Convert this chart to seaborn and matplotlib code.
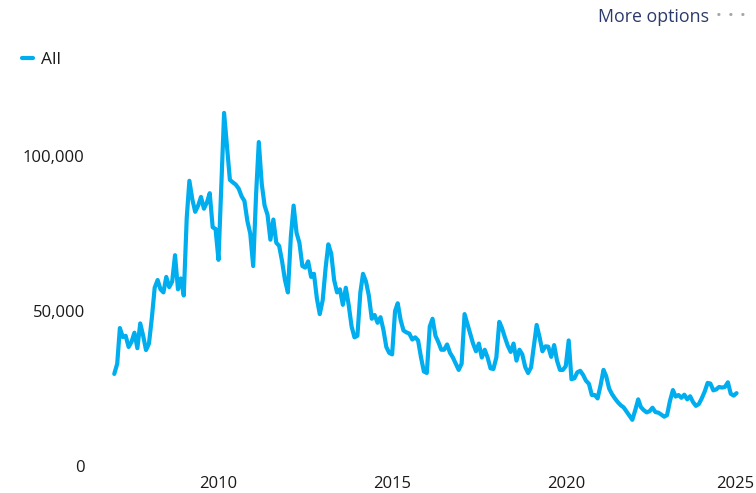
import matplotlib
matplotlib.use("Agg")
import matplotlib.pyplot as plt
import matplotlib.ticker as mticker
import matplotlib.transforms as mtransforms
import pandas as pd
import seaborn as sns

# monthly values, Jan 2007 - Dec 2024
months = pd.date_range("2007-01-01", periods=216, freq="MS")
counts = [
    # 2007
    29700, 33000, 44500, 41600, 42000, 38400, 40000, 43000, 38000, 46000, 42000, 37400,
    # 2008
    39500, 48000, 57500, 60000, 57000, 56000, 61000, 57700, 59500, 68000, 57000, 60500,
    # 2009
    55000, 80000, 92000, 86000, 82000, 84000, 86800, 83000, 85000, 88000, 77000, 76500,
    # 2010
    66500, 91000, 113900, 103000, 92300, 91500, 90800, 89500, 87000, 85500, 79000, 75000,
    # 2011
    64500, 88000, 104500, 91000, 84000, 81000, 73000, 79500, 72000, 71000, 66000, 60000,
    # 2012
    56000, 74000, 84000, 75200, 72000, 64500, 64000, 66000, 61000, 62000, 54000, 49000,
    # 2013
    53500, 64000, 71500, 68500, 60000, 56000, 57000, 52000, 57500, 52000, 45000, 41500,
    # 2014
    42000, 56000, 62000, 59500, 55000, 47500, 48700, 46200, 48000, 44000, 38400, 36500,
    # 2015
    36000, 50000, 52500, 47000, 43700, 43100, 42700, 40800, 41500, 40500, 35000, 30500,
    # 2016
    30000, 45000, 47500, 42000, 40000, 37500, 37500, 39200, 36500, 35000, 33000, 31000,
    # 2017
    33000, 49000, 46000, 42700, 39500, 37000, 39500, 35000, 37500, 35000, 31500, 31300,
    # 2018
    35000, 46500, 44500, 41500, 38800, 36800, 39500, 34000, 37500, 36000, 31900, 30000,
    # 2019
    31800, 39000, 45500, 41500, 37000, 38600, 38500, 35200, 39000, 34000, 31000, 31000,
    # 2020
    32200, 40500, 28000, 28300, 30200, 30700, 29400, 27500, 26500, 22900, 22900, 21800,
    # 2021
    26000, 31000, 29000, 25000, 23200, 21800, 20600, 19600, 18900, 17600, 16200, 14900,
    # 2022
    18000, 21500, 19000, 18000, 17300, 17700, 18800, 17400, 17200, 16600, 15900, 16400,
    # 2023
    21000, 24500, 22400, 22900, 22000, 23000, 21500, 22500, 20600, 19400, 20000, 21800,
    # 2024
    24000, 26800, 26600, 24400, 24700, 25500, 25300, 25500, 27000, 23300, 22700, 23500,
]
series_name = "All"
year_labels = ["2010", "2015", "2020", "2025"]
y_ticks = [0, 50000, 100000]

df = pd.DataFrame({"Month": months, "Count": counts, "Series": series_name})

sns.set_style("white")
plt.rcParams["font.family"] = ["Open Sans", "DejaVu Sans"]
plt.rcParams["lines.solid_joinstyle"] = "round"
plt.rcParams["lines.solid_capstyle"] = "round"

text_color = "#1B1A19"
line_color = "#00AEEF"

fig = plt.figure(figsize=(7.56, 4.93), dpi=100)
ax = fig.add_axes([100 / 756, 27 / 493, 645 / 756, 372 / 493])

sns.lineplot(data=df, x="Month", y="Count", hue="Series",
             palette=[line_color], linewidth=3.0, ax=ax)

ax.set_xlim(pd.Timestamp("2006-08-04"), pd.Timestamp("2025-02-28"))
ax.set_ylim(0, 120000)
ax.set_xticks([pd.Timestamp(f"{y}-01-01") for y in year_labels])
ax.set_xticklabels(year_labels)
ax.set_yticks(y_ticks)
ax.yaxis.set_major_formatter(mticker.FuncFormatter(lambda v, _: f"{int(v):,}"))
ax.tick_params(axis="both", length=0, labelsize=12, colors=text_color)
ax.tick_params(axis="y", pad=11)
ax.tick_params(axis="x", pad=7)
ax.set_xlabel("")
ax.set_ylabel("")
sns.despine(ax=ax, left=True, bottom=True)
ax.grid(False)

# nudge the last year label so it stays inside the figure
last = ax.get_xticklabels()[-1]
last.set_transform(last.get_transform()
                   + mtransforms.ScaledTranslation(-0.045, 0, fig.dpi_scale_trans))

leg = ax.legend(loc="center left", bbox_to_anchor=(22 / 756, 1 - 60 / 493),
                bbox_transform=fig.transFigure, frameon=False,
                handlelength=0.65, handletextpad=0.45, fontsize=12.5,
                borderaxespad=0, borderpad=0)
for h in leg.get_lines():
    h.set_linewidth(3)
for t in leg.get_texts():
    t.set_color(text_color)

fig.text(598 / 756, 1 - 17 / 493, "More options", fontsize=12.8,
         color="#2B3A6B", ha="left", va="center")
for dx in [719, 731, 743]:
    fig.text(dx / 756, 1 - 17 / 493, "\u2022", fontsize=11,
             color="#A6A6A6", ha="center", va="center")

fig.savefig("out.png", dpi=100)
